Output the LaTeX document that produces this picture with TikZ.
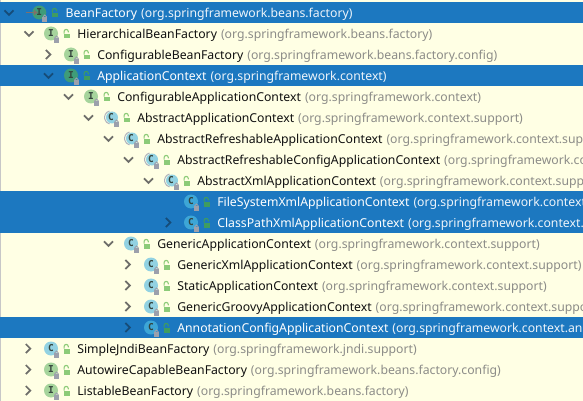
\documentclass[tikz,border=0pt]{standalone}
\usepackage{fontspec}
\usetikzlibrary{arrows.meta}
\setmainfont{Noto Sans}
\newfontfamily\iconfont{DejaVu Sans Mono}
\definecolor{paper}{HTML}{FFFFE4}
\definecolor{band}{HTML}{1C78C0}
\definecolor{pkggray}{HTML}{8C8C88}
\definecolor{nameblack}{HTML}{101010}
\definecolor{chevgray}{HTML}{6E6E6A}
\definecolor{chevsel}{HTML}{164C78}
\definecolor{ifill}{HTML}{A6D49C}
\definecolor{ifillsel}{HTML}{3F9C78}
\definecolor{cfill}{HTML}{92D2E2}
\definecolor{cfillsel}{HTML}{3DA6D6}
\definecolor{lockgreen}{HTML}{8CCB78}
\definecolor{lockgreensel}{HTML}{3F9C60}
\definecolor{lockgray}{HTML}{9CA0AC}
\definecolor{lettercol}{HTML}{34443C}
\definecolor{arrowcol}{HTML}{80706A}
\tikzset{
  x=1pt,y=-1pt,
  itemtext/.style={anchor=base west,inner sep=0pt,outer sep=0pt,font=\fontsize{12.25}{14}\selectfont},
  chevron/.style={line width=1.7pt,line cap=butt,line join=miter},
  letter/.style={inner sep=0pt,font=\iconfont\bfseries\fontsize{9.5}{9.5}\selectfont,text=lettercol}
}
\newcommand{\shacklepart}[3]{% x y colour: green open padlock
  \fill[#3] (#1-1.5,#2+0.2) rectangle (#1+5,#2+5);
  \draw[#3,line width=1.1pt] (#1-0.9,#2+0.2) -- (#1-0.9,#2-2) arc[start angle=180,end angle=360,radius=2.1] -- (#1+3.3,#2-1.2);
}
\newcommand{\graylock}[2]{%
  \fill[lockgray] (#1-2.6,#2-0.8) rectangle (#1+2.6,#2+3.6);
  \draw[lockgray,line width=0.9pt] (#1-1.6,#2-0.8) -- (#1-1.6,#2-1.4) arc[start angle=180,end angle=360,radius=1.6] -- (#1+1.6,#2-0.8);
}
% #1 name  #2 y  #3 icon x  #4 chevron x  #5 d/r/n  #6 I/C/A  #7 s/u  #8 class  #9 package
\newcommand{\treerow}[9]{%
  \def\sel{#7}\def\isS{s}\def\chv{#5}\def\kind{#6}
  \ifx\sel\isS\def\cc{chevsel}\def\gl{lockgreensel}\def\nc{white}\def\pc{white!92!band}\else\def\cc{chevgray}\def\gl{lockgreen}\def\nc{nameblack}\def\pc{pkggray}\fi
  \def\tmpd{d}\def\tmpr{r}
  \ifx\chv\tmpd\draw[chevron,\cc] (#4-4.5,#2-2.2) -- (#4,#2+2.3) -- (#4+4.5,#2-2.2);\fi
  \ifx\chv\tmpr\draw[chevron,\cc] (#4-2.2,#2-4.5) -- (#4+2.3,#2) -- (#4-2.2,#2+4.5);\fi
  \def\tmpI{I}\def\tmpA{A}
  \ifx\kind\tmpI
    \ifx\sel\isS\fill[ifillsel] (#3,#2) circle[radius=7];\else\fill[ifill] (#3,#2) circle[radius=7];\fi
    \node[letter] at (#3,#2) {I};
  \else
    \ifx\kind\tmpA
      \draw[lockgray!80,line width=1pt] (#3-1.5,#2-6.5) arc[start angle=255,end angle=105,radius=6.7];
      \fill[cfill] (#3+1,#2) circle[radius=6];
    \else
      \ifx\sel\isS\fill[cfillsel] (#3,#2) circle[radius=7];\else\fill[cfill] (#3,#2) circle[radius=7];\fi
    \fi
    \node[letter] at (#3,#2) {C};
  \fi
  \graylock{#3+5.5}{#2+5.5}
  \shacklepart{#3+14}{#2}{\gl}
  \node[itemtext,text=\nc] (#1) at (#3+26.3,#2+5) {#8\strut};
  \node[itemtext,text=\pc,anchor=base west] (#1p) at ([xshift=4pt]#1.base east) {#9};
}
\begin{document}
\begin{tikzpicture}
\useasboundingbox (0,0) rectangle (583,401);
\clip (0,0) rectangle (583,401);
\fill[paper] (0,0) rectangle (583,401);
\fill[black!22] (0,0) rectangle (1,401);
\fill[band] (0,2) rectangle (583,23);
\fill[band] (0,65) rectangle (583,86);
\fill[band] (0,191) rectangle (583,233);
\fill[band] (0,317) rectangle (583,338);
\treerow{r1}{12.5}{39.3}{9}{d}{I}{s}{BeanFactory}{(org.springframework.beans.factory)}
\draw[-{Latex[length=4pt,width=6pt]},line width=1.3pt,arrowcol] (26,12.5) -- (38,12.5);
\treerow{r2}{33.5}{51}{29}{d}{I}{u}{HierarchicalBeanFactory}{(org.springframework.beans.factory)}
\treerow{r3}{54.5}{71}{48}{r}{I}{u}{ConfigurableBeanFactory}{(org.springframework.beans.factory.config)}
\treerow{r4}{75.5}{71}{48.5}{d}{I}{s}{ApplicationContext}{(org.springframework.context)}
\treerow{r5}{96.5}{91}{68.5}{d}{I}{u}{ConfigurableApplicationContext}{(org.springframework.context)}
\treerow{r6}{117.5}{111}{88.5}{d}{A}{u}{AbstractApplicationContext}{(org.springframework.context.support)}
\treerow{r7}{138.5}{131}{108.5}{d}{A}{u}{AbstractRefreshableApplicationContext}{(org.springframework.context.support)}
\treerow{r8}{159.5}{151}{128.5}{d}{A}{u}{AbstractRefreshableConfigApplicationContext}{(org.springframework.context.support)}
\treerow{r9}{180.5}{171}{148.5}{d}{A}{u}{AbstractXmlApplicationContext}{(org.springframework.context.support)}
\treerow{r10}{201.5}{191}{168}{n}{C}{s}{FileSystemXmlApplicationContext}{(org.springframework.context.support)}
\treerow{r11}{222.5}{191}{168}{r}{C}{s}{ClassPathXmlApplicationContext}{(org.springframework.context.support)}
\treerow{r12}{243.5}{131}{108.5}{d}{C}{u}{GenericApplicationContext}{(org.springframework.context.support)}
\treerow{r13}{264.5}{151}{127.5}{r}{C}{u}{GenericXmlApplicationContext}{(org.springframework.context.support)}
\treerow{r14}{285.5}{151}{127.5}{r}{C}{u}{StaticApplicationContext}{(org.springframework.context.support)}
\treerow{r15}{306.5}{151}{127.5}{r}{C}{u}{GenericGroovyApplicationContext}{(org.springframework.context.support)}
\treerow{r16}{327.5}{151}{127.5}{r}{C}{s}{AnnotationConfigApplicationContext}{(org.springframework.context.annotation)}
\treerow{r17}{348.5}{51}{28}{r}{C}{u}{SimpleJndiBeanFactory}{(org.springframework.jndi.support)}
\treerow{r18}{369.5}{51}{28}{r}{I}{u}{AutowireCapableBeanFactory}{(org.springframework.beans.factory.config)}
\treerow{r19}{390.5}{51}{28}{r}{I}{u}{ListableBeanFactory}{(org.springframework.beans.factory)}
\end{tikzpicture}
\end{document}
